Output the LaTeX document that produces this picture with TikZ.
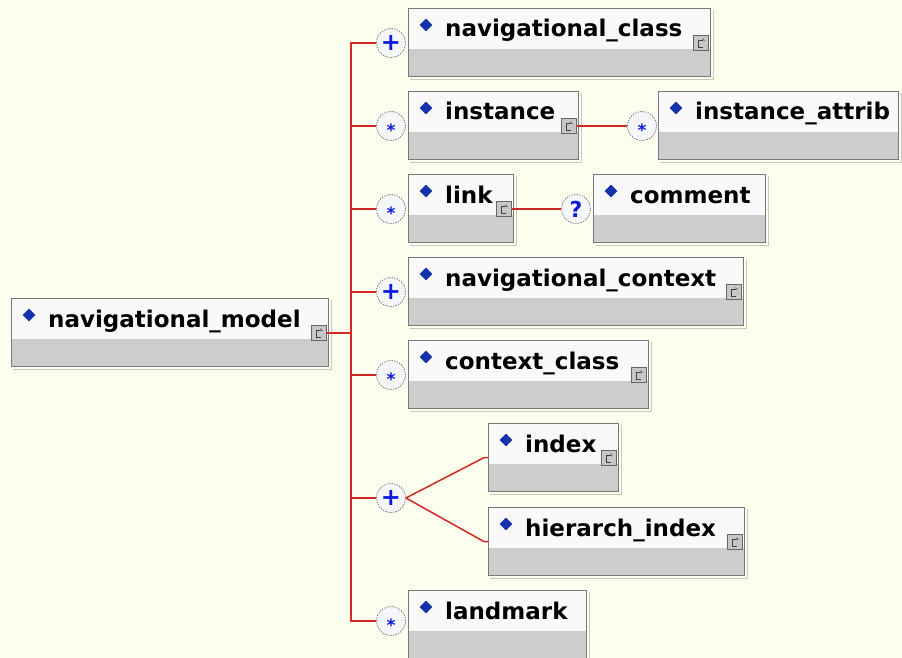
\documentclass[tikz,border=0pt]{standalone}
\usepackage{fontspec}
\setmainfont{DejaVu Sans}
\usetikzlibrary{shapes.geometric}
\definecolor{bg}{RGB}{254,254,238}
\definecolor{boxtop}{RGB}{249,249,249}
\definecolor{boxbot}{RGB}{205,205,205}
\definecolor{boxline}{RGB}{120,120,120}
\definecolor{shadowline}{RGB}{200,200,188}
\definecolor{connred}{RGB}{210,40,40}
\definecolor{diablue}{RGB}{20,50,170}
\definecolor{symblue}{RGB}{15,25,220}
\definecolor{compfill}{RGB}{244,246,250}
\newcommand\elem[6]{%
  \node[ebox, minimum width=#4pt] (#1) at (#2,#3) {};
  \draw[shadowline, line width=1pt] ([xshift=2.5pt,yshift=-2pt]#1.north east) -- ([xshift=2.5pt,yshift=-2.5pt]#1.south east) -- ([xshift=2pt,yshift=-2.5pt]#1.south west);
  \node[diamark] (#1-d) at (#2+18,#3+17) {};
  \node[etext] (#1-t) at (#2+37,#3+29) {#5};
  \ifnum#6=1 \node[iconbox] (#1-ic) at (#2+#4-9,#3+35) {};\fi
}
\begin{document}
\begin{tikzpicture}[x=1pt,y=-1pt,
  ebox/.style={draw=boxline, line width=1.2pt, fill=boxtop, anchor=north west, inner sep=0pt, minimum height=68pt,
    path picture={\fill[boxbot] (path picture bounding box.south west) rectangle ([yshift=28pt]path picture bounding box.south east);}},
  diamark/.style={diamond, fill=diablue, inner sep=0pt, minimum size=13pt},
  etext/.style={anchor=base west, inner sep=0pt, font=\bfseries\fontsize{23}{23}\selectfont},
  iconbox/.style={rectangle, draw=black!60, line width=0.8pt, fill=black!22, minimum width=15pt, minimum height=15pt, inner sep=0pt,
    path picture={\draw[black!75, line width=0.7pt]
      ([xshift=2pt,yshift=-4pt]path picture bounding box.center) -- ([xshift=-2.5pt,yshift=-4pt]path picture bounding box.center)
      -- ([xshift=-2.5pt,yshift=3pt]path picture bounding box.center) -- ([xshift=1.5pt,yshift=3pt]path picture bounding box.center);
      \draw[black!75, line width=0.6pt] ([xshift=1.5pt,yshift=4.5pt]path picture bounding box.center) -- ([xshift=3.5pt,yshift=2pt]path picture bounding box.center);}},
  comp/.style={circle, draw=black!55, dash pattern=on 1.3pt off 1.3pt, line width=0.8pt, fill=compfill, minimum size=29pt, inner sep=0pt},
  plussym/.style={font=\bfseries\fontsize{24}{24}\selectfont, text=symblue},
  starsym/.style={font=\bfseries\fontsize{17}{17}\selectfont, text=symblue},
  qsym/.style={font=\bfseries\fontsize{22}{22}\selectfont, text=symblue},
  conn/.style={draw=connred, line width=1.5pt}
]
\fill[bg] (0,0) rectangle (902,658);
\useasboundingbox (0,0) rectangle (902,658);

% element boxes
\elem{nm}{11}{298}{317}{navigational\_model}{1}
\elem{ncls}{408}{8}{302}{navigational\_class}{1}
\elem{inst}{408}{91}{170}{instance}{1}
\elem{iattr}{658}{91}{240}{instance\_attrib}{0}
\elem{link}{408}{174}{105}{link}{1}
\elem{cmt}{593}{174}{172}{comment}{0}
\elem{nctx}{408}{257}{335}{navigational\_context}{1}
\elem{ccls}{408}{340}{240}{context\_class}{1}
\elem{ix}{488}{423}{130}{index}{1}
\elem{hix}{488}{507}{256}{hierarch\_index}{1}
\elem{lm}{408}{590}{178}{landmark}{0}

% compositor circles
\node[comp] (c1) at (391,43) {};
\node[comp] (c2) at (391,126) {};
\node[comp] (c3) at (391,209) {};
\node[comp] (c4) at (391,292) {};
\node[comp] (c5) at (391,375) {};
\node[comp] (c6) at (391,498) {};
\node[comp] (c7) at (391,621) {};
\node[comp] (c2b) at (642,126) {};
\node[comp] (c3b) at (576,209) {};

% symbols
\node[plussym] (s1) at (c1) {+};
\node[starsym, yshift=-4pt] (s2) at (c2) {*};
\node[starsym, yshift=-4pt] (s3) at (c3) {*};
\node[plussym] (s4) at (c4) {+};
\node[starsym, yshift=-4pt] (s5) at (c5) {*};
\node[plussym] (s6) at (c6) {+};
\node[starsym, yshift=-4pt] (s7) at (c7) {*};
\node[starsym, yshift=-4pt] (s2b) at (c2b) {*};
\node[qsym] (s3b) at (c3b) {?};

% connectors
\coordinate (trunk) at (351,333);
\draw[conn] (nm-ic.east) -- (trunk);
\draw[conn] (trunk) |- (c1.west);
\draw[conn] (trunk) |- (c2.west);
\draw[conn] (trunk) |- (c3.west);
\draw[conn] (trunk) |- (c4.west);
\draw[conn] (trunk) |- (c5.west);
\draw[conn] (trunk) |- (c6.west);
\draw[conn] (trunk) |- (c7.west);
\draw[conn] (inst-ic.east) -- (c2b.west);
\draw[conn] (link-ic.east) -- (c3b.west);
\draw[conn] (c6.east) -- ([xshift=-4pt]ix.west) -- (ix.west);
\draw[conn] (c6.east) -- ([xshift=-4pt]hix.west) -- (hix.west);
\end{tikzpicture}
\end{document}
